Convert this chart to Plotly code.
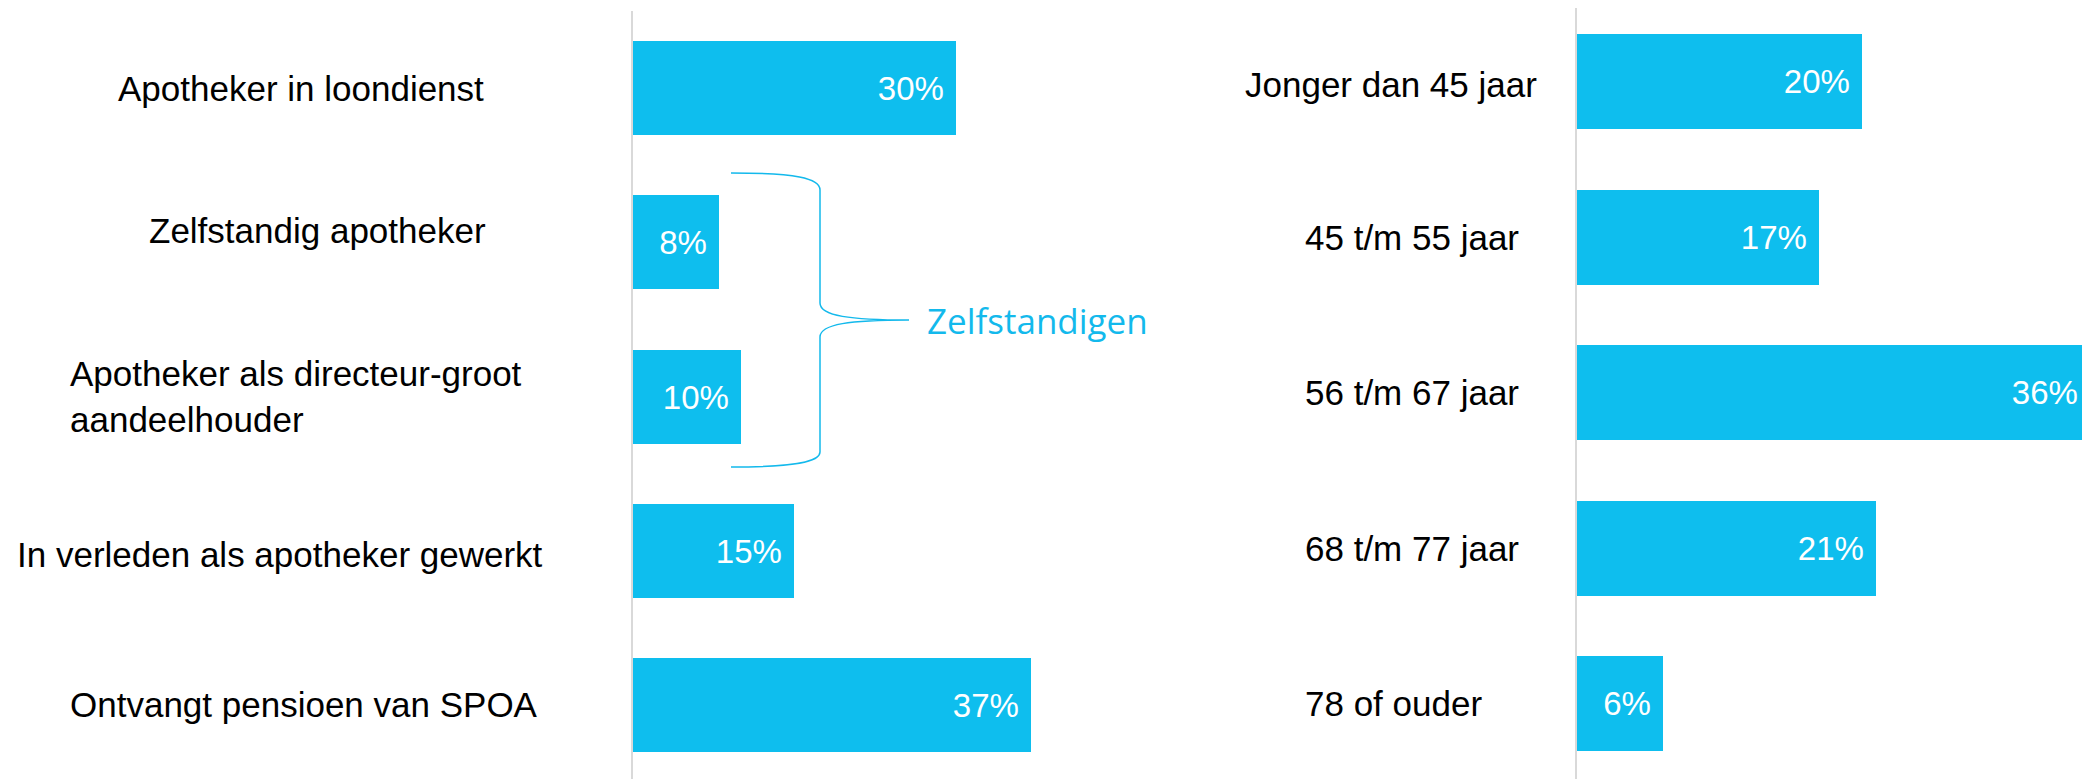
import plotly.graph_objects as go

# ---- data ----
left_categories = ["Apotheker in loondienst", "Zelfstandig apotheker",
                   "Apotheker als directeur-groot<br>aandeelhouder",
                   "In verleden als apotheker gewerkt", "Ontvangt pensioen van SPOA"]
left_values = [30, 8, 10, 15, 37]

right_categories = ["Jonger dan 45 jaar", "45 t/m 55 jaar", "56 t/m 67 jaar",
                    "68 t/m 77 jaar", "78 of ouder"]
right_values = [20, 17, 36, 21, 6]

bracket_label = "Zelfstandigen"

# ---- style / layout ----
OFF = 8                      # page body margin of the browser
W, H = 2090 - OFF, 779 - OFF
BAR = "#0EBEEE"
AXIS = "#D9D9D9"
FONT = "Liberation Sans, Arial, sans-serif"

def px(x):
    return (x - OFF) / W

def py(y):
    return 1 - (y - OFF) / H

left_label_x = [116, 147, 68, 15, 68]
left_label_shift = [0, 12, 0, -4, 0]
right_label_x = [1243, 1303, 1303, 1303, 1303]
right_label_shift = [-3, 0, 0, 0, 0]

fig = go.Figure()

NB = "\u00a0"
fig.add_trace(go.Bar(
    x=left_values, y=list(range(len(left_categories))), orientation="h",
    marker=dict(color=BAR, line=dict(width=0)), width=0.61,
    text=[f"{v}%{NB}" for v in left_values], textposition="inside",
    insidetextanchor="end", textfont=dict(color="white", size=33, family=FONT),
    xaxis="x", yaxis="y", hoverinfo="skip", showlegend=False,
))
fig.add_trace(go.Bar(
    x=right_values, y=list(range(len(right_categories))), orientation="h",
    marker=dict(color=BAR, line=dict(width=0)), width=0.61,
    text=[f"{v}%{NB}" for v in right_values], textposition="inside",
    insidetextanchor="end", textfont=dict(color="white", size=33, family=FONT),
    xaxis="x2", yaxis="y2", hoverinfo="skip", showlegend=False,
))

annotations = []
for i, (cat, lx) in enumerate(zip(left_categories, left_label_x)):
    annotations.append(dict(
        x=px(lx), xref="paper", y=i, yref="y", yshift=left_label_shift[i],
        text=cat, showarrow=False, xanchor="left", align="left",
        font=dict(family=FONT, size=35, color="black"),
    ))
for i, (cat, lx) in enumerate(zip(right_categories, right_label_x)):
    annotations.append(dict(
        x=px(lx), xref="paper", y=i, yref="y2", yshift=right_label_shift[i],
        text=cat, showarrow=False, xanchor="left", align="left",
        font=dict(family=FONT, size=35, color="black"),
    ))
annotations.append(dict(
    x=px(925), y=py(320), xref="paper", yref="paper", text=bracket_label,
    showarrow=False, xanchor="left", yanchor="middle",
    font=dict(family="Open Sans, DejaVu Sans, sans-serif", size=35, color="#13B9EC"),
))

# curly brace (decorative)
pts = [
    ("M", [(731, 173)]),
    ("C", [(795, 173), (820, 178), (820, 190)]),
    ("L", [(820, 303)]),
    ("C", [(820, 316), (850, 320), (909, 320)]),
    ("C", [(850, 320), (820, 324), (820, 337)]),
    ("L", [(820, 452)]),
    ("C", [(820, 462), (795, 467), (731, 467)]),
]
path = " ".join(cmd + " " + " ".join(f"{px(x):.5f},{py(y):.5f}" for x, y in p) for cmd, p in pts)

fig.update_layout(
    width=W, height=H, margin=dict(l=0, r=0, t=0, b=0),
    paper_bgcolor="white", plot_bgcolor="white",
    bargap=0,
    xaxis=dict(domain=[px(633), px(633 + 430)], range=[0, 40], visible=False, fixedrange=True),
    yaxis=dict(domain=[0, py(11)], range=[4.48, -0.5], showticklabels=False,
               showgrid=False, zeroline=False, showline=True, linecolor=AXIS,
               linewidth=1.5, anchor="x", ticks=""),
    xaxis2=dict(domain=[px(1577), 1], range=[0, 36.0], visible=False, fixedrange=True),
    yaxis2=dict(domain=[0, 1], range=[4.483, -0.472], showticklabels=False,
                showgrid=False, zeroline=False, showline=True, linecolor=AXIS,
                linewidth=1.5, anchor="x2", ticks=""),
    annotations=annotations,
    shapes=[dict(type="path", path=path, xref="paper", yref="paper",
                 line=dict(color="#13B9EC", width=1.5))],
)

fig.write_html("out.html")
